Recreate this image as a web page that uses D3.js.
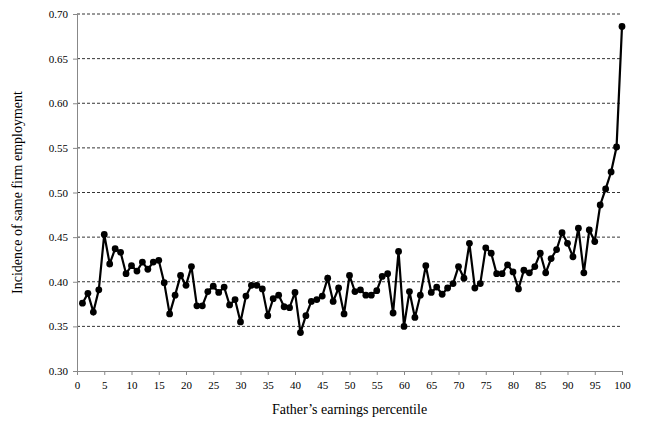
<!DOCTYPE html><html><head><script src="https://cdn.jsdelivr.net/npm/d3@7"></script>
<style>body{margin:0;background:#fff}text{font-family:"Liberation Serif","Times New Roman",serif;fill:#000}</style></head><body><svg id="c" width="656" height="425"></svg>
<script>
const percentiles = d3.range(1,101);
const values = [.376,.387,.366,.391,.453,.420,.437,.433,.409,.418,.412,.422,.414,.422,.424,.399,.364,.385,.407,.396,
.417,.373,.373,.389,.395,.388,.394,.374,.380,.355,.384,.396,.396,.392,.362,.381,.385,.372,.371,.388,
.343,.362,.378,.380,.384,.404,.378,.393,.364,.407,.389,.391,.385,.385,.390,.406,.409,.365,.434,.350,
.389,.360,.385,.418,.388,.394,.386,.393,.398,.417,.404,.443,.393,.398,.438,.432,.409,.409,.419,.411,
.392,.413,.410,.417,.432,.410,.426,.436,.455,.443,.428,.460,.410,.458,.445,.486,.504,.523,.551,.686];
const xTicks = d3.range(0,101,5);
const yTicks = d3.range(0.30,0.701,0.05);
const svg = d3.select("#c");
const L=77,R=622,T=14,B=371;
const x=d3.scaleLinear().domain([0,100]).range([L,R]);
const y=d3.scaleLinear().domain([0.30,0.70]).range([B,T]);
svg.append("g").selectAll("line").data(yTicks.slice(1)).join("line")
 .attr("x1",L).attr("x2",R).attr("y1",d=>y(d)).attr("y2",d=>y(d))
 .attr("stroke","#000").attr("stroke-width",0.8).attr("stroke-dasharray","3,2");
const xa=svg.append("g").attr("transform",`translate(0,${B})`).call(d3.axisBottom(x).tickValues(xTicks).tickSize(4).tickPadding(6).tickFormat(d3.format("d")));
const ya=svg.append("g").attr("transform",`translate(${L},0)`).call(d3.axisLeft(y).tickValues(yTicks).tickSize(4).tickPadding(5).tickFormat(d3.format(".2f")));
[xa,ya].forEach(a=>{a.attr("font-family","Liberation Serif").attr("font-size",11);a.selectAll("text").attr("font-family","Liberation Serif").style("font-size","11px");a.select(".domain").attr("stroke","#888");a.selectAll(".tick line").attr("stroke","#888");});
const data=percentiles.map((p,i)=>[p,values[i]]);
svg.append("path").datum(data).attr("fill","none").attr("stroke","#000").attr("stroke-width",2.2)
 .attr("d",d3.line().x(d=>x(d[0])).y(d=>y(d[1])));
svg.append("g").selectAll("circle").data(data).join("circle")
 .attr("cx",d=>x(d[0])).attr("cy",d=>y(d[1])).attr("r",3.4).attr("fill","#000");
svg.append("text").attr("x",(L+R)/2).attr("y",414).attr("text-anchor","middle").style("font-size","14px").text("Father’s earnings percentile");
svg.append("text").attr("transform",`translate(22,${(T+B)/2}) rotate(-90)`).attr("text-anchor","middle").style("font-size","14px").text("Incidence of same firm employment");
</script></body></html>
